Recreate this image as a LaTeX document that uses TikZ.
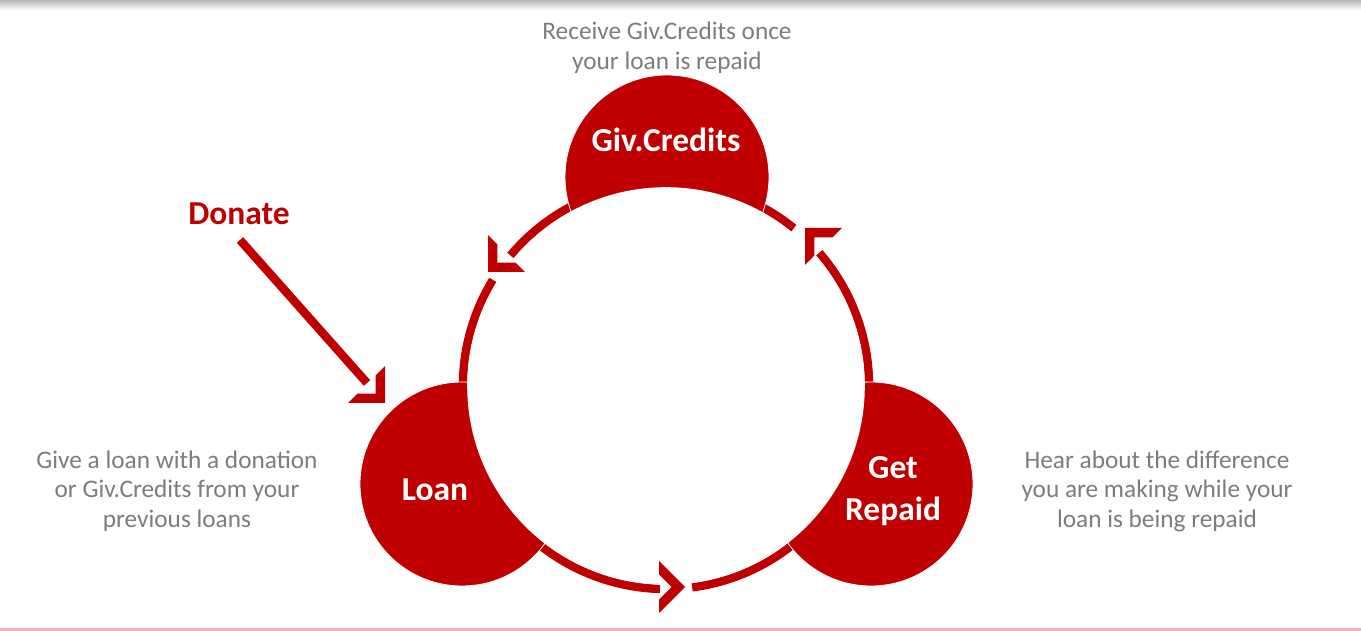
\documentclass[tikz,border=0pt]{standalone}
\usepackage{fontspec}
\setmainfont{Carlito}
\definecolor{kred}{RGB}{192,0,0}
\definecolor{kgray}{RGB}{125,125,125}
\definecolor{kpink}{RGB}{236,178,184}
\tikzset{
  ring/.style={draw=kred, line width=8.5pt, line cap=butt},
  bigdisk/.style={circle, fill=kred, draw=white, line width=0.8pt, minimum size=204pt, inner sep=0pt},
  captxt/.style={text=kgray, align=center, font=\fontsize{25.3}{29.5}\selectfont},
  intxt/.style={text=white, align=center, font=\fontsize{33.5}{42}\selectfont\bfseries},
  chev/.pic={\fill[kred] (0,0) -- (-26,26) -- (-26,12.6) -- (-13.4,0) -- (-26,-12.6) -- (-26,-26) -- cycle;}
}
\begin{document}
\begin{tikzpicture}[x=1pt,y=1pt]
\useasboundingbox (0,0) rectangle (1361,631);
\fill[white] (0,0) rectangle (1361,631);
\shade[top color=black!28, bottom color=white] (0,621) rectangle (1361,631);
\fill[kpink] (0,0) rectangle (1361,3);
% ring
\coordinate (c) at (666,245);
\draw[ring] (c) ++(148.5:203) arc[start angle=148.5, end angle=268.3, radius=203];
\draw[ring] (c) ++(-82.6:203) arc[start angle=-82.6, end angle=41, radius=203];
\draw[ring] (c) ++(51:203) arc[start angle=51, end angle=140, radius=203];
% red disks
\node[bigdisk] (giv) at (667,454) {};
\node[bigdisk] (loan) at (462,147) {};
\node[bigdisk] (repaid) at (871,147) {};
% white interior
\fill[white] (c) circle[radius=198.8];
% chevrons
\pic[rotate=225] at (488,359) {chev};
\pic[rotate=135] at (805,403) {chev};
\pic[rotate=0] at (685,44) {chev};
\pic[rotate=-45] at (385,228) {chev};
% donate
\node[text=kred, font=\fontsize{33.5}{38}\selectfont\bfseries] (donate) at (239,417) {Donate};
\coordinate (dstart) at (240,391);
\coordinate (dend) at (367,248);
\draw[draw=kred, line width=8.5pt] (dstart) -- (dend);
% texts
\node[intxt] (givt) at (666,491) {Giv.Credits};
\node[intxt] (loant) at (435,141) {Loan};
\node[intxt] (rept) at (893,140) {Get\\Repaid};
\node[captxt] (t1) at (667,583) {Receive Giv.Credits once\\your loan is repaid};
\node[captxt] (t2) at (177,140) {Give a loan with a donation\\or Giv.Credits from your\\previous loans};
\node[captxt] (t3) at (1157,140) {Hear about the difference\\you are making while your\\loan is being repaid};
\end{tikzpicture}
\end{document}
